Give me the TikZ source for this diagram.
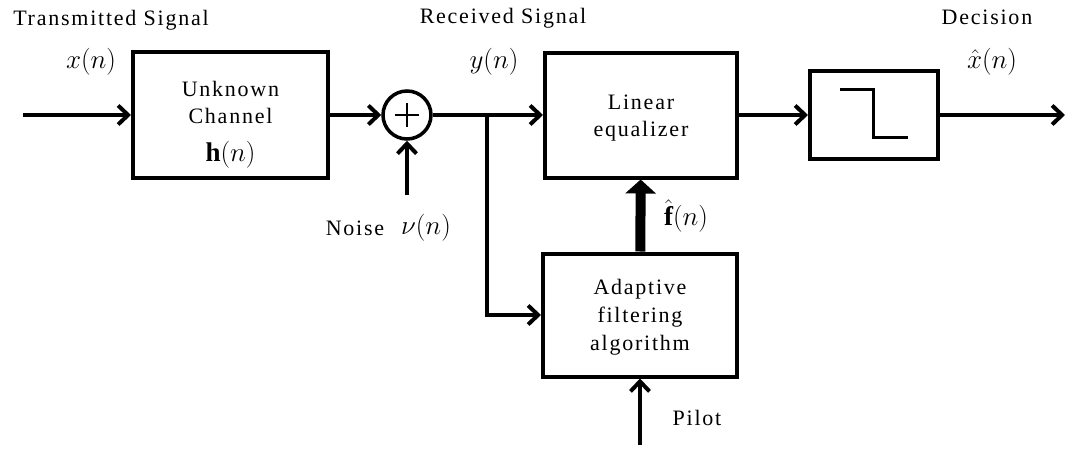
\RequirePackage{fix-cm}
\documentclass[tikz,border=0pt]{standalone}
\usepackage{fontspec}
\setmainfont{Liberation Serif}[LetterSpace=8]
\usetikzlibrary{arrows.meta}

\tikzset{
    blk/.style = {draw, line width = 4pt, align = center, inner sep = 0pt},
    sig/.style = {line width = 4pt, -{Straight Barb[length = 10pt, width = 19pt]}},
    wire/.style = {line width = 4pt},
    coef/.style = {line width = 10pt, -{Triangle[length = 14pt, width = 30pt]}},
    mth/.style = {font = \fontsize{27}{30}\selectfont, inner sep = 0pt},
}

\begin{document}
\begin{tikzpicture}[x = 1pt, y = -1pt, font = \fontsize{22}{27}\selectfont]
        \useasboundingbox (0, 0) rectangle (1072, 450);
        \node [blk, minimum width = 195, minimum height = 126] (chan) at (230.5, 115) {};
        \node [draw, circle, line width = 3.5pt, minimum size = 48, inner sep = 0pt] (sum) at (407, 115) {};
        \node [blk, minimum width = 192, minimum height = 125] (eq) at (641, 115) {};
        \node [blk, minimum width = 128, minimum height = 88] (dec) at (874, 115) {};
        \node [blk, minimum width = 194, minimum height = 123] (adapt) at (640, 315) {};
        \coordinate (in) at (23, 115);
        \coordinate (out) at (1065, 115);
        \coordinate (noise) at (407, 195);
        \coordinate (split) at (487, 115);
        \coordinate (pilot) at (640, 445);
        \draw [line width = 2.5pt] (sum.center) ++(-12, 0) -- ++(24, 0);
        \draw [line width = 2.5pt] (sum.center) ++(0, -12) -- ++(0, 24);
        \draw [line width = 3pt] (dec.center) ++(-34, -26) -- ++(33, 0) -- ++(0, 48) -- ++(35, 0);
        \draw [sig] (in) -- (chan);
        \draw [sig] (chan) -- (sum);
        \draw [sig] (noise) -- (sum);
        \draw [wire] (sum) -- (split);
        \draw [sig] (split) -- (eq);
        \draw [sig] (split) |- (adapt);
        \draw [sig] (eq) -- (dec);
        \draw [sig] (dec) -- (out);
        \draw [coef] (adapt) -- (eq);
        \draw [sig] (pilot) -- (adapt);
        \node [align = center] (chantxt) at (230.5, 102) {Unknown\\Channel};
        \node [mth] (hn) at (230.5, 155) {$\mathbf{h}(n)$};
        \node [align = center] (eqtxt) at (641, 118) {Linear\\equalizer};
        \node [align = center] (adtxt) at (640, 317) {Adaptive\\[1pt]filtering\\[1pt]algorithm};
        \node [inner sep = 0pt] (txsig) at (111, 20) {Transmitted Signal};
        \node [mth] (xin) at (91, 62) {$x(n)$};
        \node [inner sep = 0pt] (rxsig) at (503, 18) {Received Signal};
        \node [mth] (yrx) at (494, 62) {$y(n)$};
        \node [inner sep = 0pt] (decis) at (987, 17) {Decision};
        \node [mth] (xhat) at (992, 62) {$\hat{x}(n)$};
        \node [inner sep = 0pt] (noiselbl) at (355, 228) {Noise};
        \node [mth] (nu) at (426, 228) {$\nu(n)$};
        \node [mth] (fhat) at (686, 216) {$\hat{\mathbf{f}}(n)$};
        \node [inner sep = 0pt] (pilotlbl) at (697, 418) {Pilot};
    \end{tikzpicture}
\end{document}
